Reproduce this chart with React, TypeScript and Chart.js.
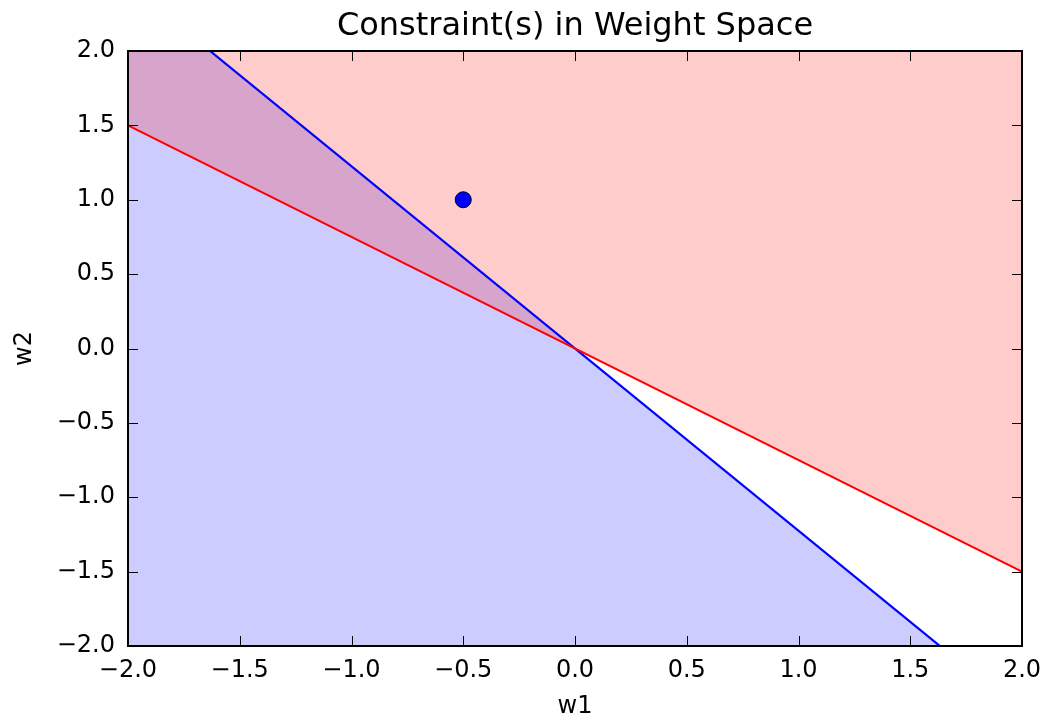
import React, { useEffect, useRef } from "react";
import { Chart, registerables } from "chart.js";

Chart.register(...registerables);

const TITLE = "Constraint(s) in Weight Space";
const X_LABEL = "w1";
const Y_LABEL = "w2";
const AXIS_MIN = -2;
const AXIS_MAX = 2;
const TICK_STEP = 0.5;

// red constraint line (fill above)
const redX = [-2, 2];
const redY = [1.5, -1.5];
// blue constraint line (fill below)
const blueX = [-2, 2];
const blueY = [2.45, -2.45];
// weight point
const pointX = [-0.5];
const pointY = [1.0];

const FONT = "'DejaVu Sans', sans-serif";

const fmt = (v: number) => Number(v).toFixed(1).replace("-", "\u2212");

const decor = {
  id: "decor",
  afterDatasetsDraw(chart: any) {
    const { ctx, chartArea: a, scales } = chart;
    const xs = scales.x;
    const ys = scales.y;
    ctx.save();
    ctx.strokeStyle = "#000";
    ctx.lineWidth = 1;
    const tl = 10;
    xs.ticks.forEach((t: any) => {
      const px = Math.round(xs.getPixelForValue(t.value)) + 0.5;
      ctx.beginPath();
      ctx.moveTo(px, a.bottom);
      ctx.lineTo(px, a.bottom - tl);
      ctx.moveTo(px, a.top);
      ctx.lineTo(px, a.top + tl);
      ctx.stroke();
    });
    ys.ticks.forEach((t: any) => {
      const py = Math.round(ys.getPixelForValue(t.value)) + 0.5;
      ctx.beginPath();
      ctx.moveTo(a.left, py);
      ctx.lineTo(a.left + tl, py);
      ctx.moveTo(a.right, py);
      ctx.lineTo(a.right - tl, py);
      ctx.stroke();
    });
    ctx.lineWidth = 2;
    ctx.strokeRect(a.left, a.top, a.right - a.left, a.bottom - a.top);
    ctx.restore();
  },
  afterDraw(chart: any) {
    const { ctx, chartArea: a } = chart;
    ctx.save();
    ctx.fillStyle = "#000";
    ctx.textAlign = "center";
    ctx.textBaseline = "middle";
    const cx = (a.left + a.right) / 2;
    ctx.font = `32px ${FONT}`;
    ctx.fillText(TITLE, cx, 27);
    ctx.font = `24px ${FONT}`;
    ctx.fillText(X_LABEL, cx, 707);
    ctx.translate(25, (a.top + a.bottom) / 2);
    ctx.rotate(-Math.PI / 2);
    ctx.fillText(Y_LABEL, 0, 0);
    ctx.restore();
  },
};

export default function App() {
  const ref = useRef<HTMLCanvasElement | null>(null);
  useEffect(() => {
    if (!ref.current) return;
    const chart = new Chart(ref.current, {
      type: "line",
      data: {
        datasets: [
          {
            label: "point",
            data: pointX.map((x, i) => ({ x, y: pointY[i] })),
            showLine: false,
            pointRadius: 8,
            pointBackgroundColor: "#0000ff",
            pointBorderColor: "#000000",
            pointBorderWidth: 1,
            order: 1,
          },
          {
            label: "red",
            data: redX.map((x, i) => ({ x, y: redY[i] })),
            borderColor: "#ff0000",
            borderWidth: 2.2,
            backgroundColor: "rgba(255,0,0,0.2)",
            fill: "end",
            pointRadius: 0,
            order: 2,
          },
          {
            label: "blue",
            data: blueX.map((x, i) => ({ x, y: blueY[i] })),
            borderColor: "#0000ff",
            borderWidth: 2.2,
            backgroundColor: "rgba(0,0,255,0.2)",
            fill: "start",
            pointRadius: 0,
            order: 3,
          },
        ],
      },
      options: {
        animation: false,
        responsive: true,
        maintainAspectRatio: false,
        layout: { padding: { top: 51, right: 23, left: 0, bottom: 0 } },
        plugins: {
          legend: { display: false },
          tooltip: { enabled: false },
          title: { display: false },
          filler: { drawTime: "beforeDatasetsDraw" },
        },
        scales: {
          x: {
            type: "linear",
            min: AXIS_MIN,
            max: AXIS_MAX,
            grid: { display: false, drawTicks: false },
            border: { display: false },
            ticks: {
              stepSize: TICK_STEP,
              padding: 10,
              color: "#000",
              font: { family: FONT, size: 24 },
              maxRotation: 0,
              callback: (v: any) => fmt(v),
            },
            afterFit: (s: any) => {
              s.height = 77;
              s.paddingLeft = 0;
              s.paddingRight = 0;
            },
          },
          y: {
            type: "linear",
            min: AXIS_MIN,
            max: AXIS_MAX,
            grid: { display: false, drawTicks: false },
            border: { display: false },
            ticks: {
              stepSize: TICK_STEP,
              padding: 13,
              color: "#000",
              font: { family: FONT, size: 24 },
              callback: (v: any) => fmt(v),
            },
            afterFit: (s: any) => {
              s.width = 128;
              s.paddingTop = 0;
              s.paddingBottom = 0;
            },
          },
        },
      },
      plugins: [decor],
    });
    return () => chart.destroy();
  }, []);
  return (
    <div style={{ position: "absolute", left: 0, top: 0, width: 1045, height: 723, background: "#fff" }}>
      <canvas ref={ref} />
    </div>
  );
}
